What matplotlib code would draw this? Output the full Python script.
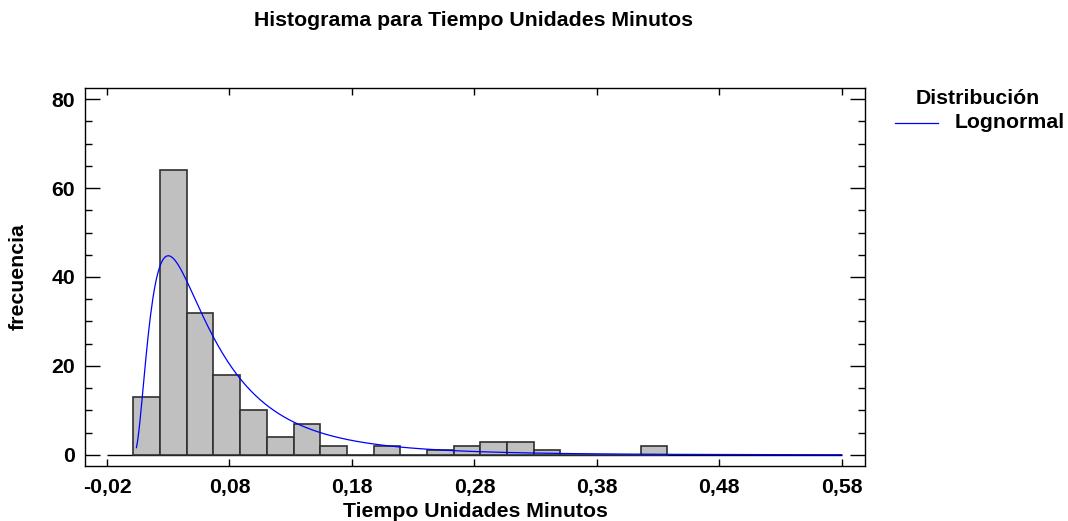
import numpy as np
import matplotlib
matplotlib.use("Agg")
import matplotlib.pyplot as plt
from matplotlib.ticker import MultipleLocator, FixedLocator

# histogram data
bin_start = 0.0015
bin_width = 0.0218
counts = [13, 64, 32, 18, 10, 4, 7, 2, 0, 2, 0, 1, 2, 3, 3, 1, 0, 0, 0, 2]
n_obs = sum(counts)

# fitted lognormal (log-scale mean / sd), curve range
ln_mu = -2.895
ln_sigma = 0.782
curve_from = 0.004
curve_to = 0.58

x_ticks = [-0.02, 0.08, 0.18, 0.28, 0.38, 0.48, 0.58]
x_ticklabels = ["-0,02", "0,08", "0,18", "0,28", "0,38", "0,48", "0,58"]
y_ticks = [0, 20, 40, 60, 80]

plt.rcParams['font.family'] = ['Liberation Sans', 'DejaVu Sans']
plt.rcParams['font.weight'] = 'bold'

fs = 15.3

fig = plt.figure(figsize=(10.68, 5.21), dpi=100)
ax = fig.add_axes([85 / 1068, 55 / 521, 780 / 1068, 378 / 521])

lefts = bin_start + bin_width * np.arange(len(counts))
ax.bar(lefts, counts, width=bin_width, align='edge', color='#c0c0c0',
       edgecolor='#303030', linewidth=1.2, zorder=2)

xs = np.linspace(curve_from, curve_to, 600)
pdf = np.exp(-(np.log(xs) - ln_mu) ** 2 / (2 * ln_sigma ** 2)) / (xs * ln_sigma * np.sqrt(2 * np.pi))
ax.plot(xs, pdf * n_obs * bin_width, color='#0000ff', linewidth=0.9, zorder=3,
        label='Lognormal')

ax.hlines(0, x_ticks[0], x_ticks[-1], color='black', linewidth=1.0, zorder=1)

ax.set_xlim(-0.038, 0.599)
ax.set_ylim(-2.5, 82.5)

ax.xaxis.set_major_locator(FixedLocator(x_ticks))
ax.set_xticklabels(x_ticklabels)
ax.yaxis.set_major_locator(FixedLocator(y_ticks))
ax.yaxis.set_minor_locator(MultipleLocator(5))

ax.tick_params(axis='x', which='major', direction='in', length=5, width=1,
               top=True, labelsize=fs, pad=9)
ax.tick_params(axis='y', which='major', direction='in', length=11, width=1,
               right=True, labelsize=fs, pad=7)
ax.tick_params(axis='y', which='minor', direction='in', length=5, width=1,
               right=True)
for sp in ax.spines.values():
    sp.set_linewidth(1.0)

ax.set_xlabel("Tiempo Unidades Minutos", fontsize=fs, fontweight='bold', labelpad=3)
ax.set_ylabel("frecuencia", fontsize=fs, fontweight='bold', labelpad=17)

fig.text(474 / 1068, 1 - 20 / 521, "Histograma para Tiempo Unidades Minutos",
         ha='center', va='center', fontsize=fs, fontweight='bold')

# legend, drawn by hand like the original
fig.text(978 / 1068, 1 - 99 / 521, "Distribución", ha='center', va='center',
         fontsize=fs, fontweight='bold')
fig.add_artist(plt.Line2D([895 / 1068, 938 / 1068], [1 - 123 / 521, 1 - 123 / 521],
                          color='#0000ff', linewidth=0.9))
fig.text(955 / 1068, 1 - 122 / 521, "Lognormal", ha='left', va='center',
         fontsize=fs, fontweight='bold')

fig.savefig("out.png", dpi=100)
